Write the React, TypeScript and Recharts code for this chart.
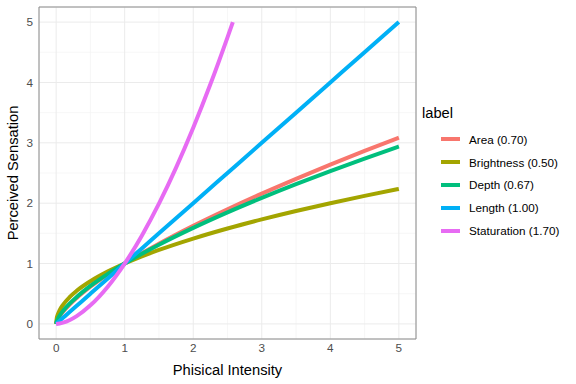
import React from "react";
import {
  LineChart,
  Line,
  XAxis,
  YAxis,
  CartesianGrid,
  ReferenceArea,
} from "recharts";

const xValues = [0, 0.01, 0.02, 0.05, 0.1, 0.2, 0.3, 0.5, 0.75, 1, 1.25, 1.5, 2, 2.5, 3, 3.5, 4, 4.5, 5];
const areaValues = [0, 0.04, 0.065, 0.123, 0.2, 0.324, 0.43, 0.616, 0.818, 1, 1.169, 1.328, 1.625, 1.899, 2.158, 2.404, 2.639, 2.866, 3.085];
const brightnessValues = [0, 0.1, 0.141, 0.224, 0.316, 0.447, 0.548, 0.707, 0.866, 1, 1.118, 1.225, 1.414, 1.581, 1.732, 1.871, 2.0, 2.121, 2.236];
const depthValues = [0, 0.046, 0.073, 0.134, 0.214, 0.34, 0.446, 0.629, 0.825, 1, 1.161, 1.312, 1.591, 1.848, 2.088, 2.315, 2.531, 2.739, 2.94];
const lengthValues = [0, 0.01, 0.02, 0.05, 0.1, 0.2, 0.3, 0.5, 0.75, 1, 1.25, 1.5, 2, 2.5, 3, 3.5, 4, 4.5, 5];
const saturationX = [0, 0.05, 0.1, 0.2, 0.3, 0.5, 0.75, 1, 1.25, 1.5, 1.75, 2, 2.25, 2.5, 2.578];
const saturationValues = [0, 0.006, 0.02, 0.065, 0.129, 0.308, 0.613, 1, 1.461, 1.992, 2.589, 3.249, 3.969, 4.748, 5.0];

const labels = ["Area (0.70)", "Brightness (0.50)", "Depth (0.67)", "Length (1.00)", "Staturation (1.70)"];
const colors = ["#F8766D", "#A3A500", "#00BF7D", "#00B0F6", "#E76BF3"];

const majorTicks = [0, 1, 2, 3, 4, 5];
const minorTicks = [0.5, 1.5, 2.5, 3.5, 4.5];

const toPoints = (xs: number[], ys: number[]) => xs.map((x, i) => ({ x, y: ys[i] }));

const series = [
  toPoints(xValues, areaValues),
  toPoints(xValues, brightnessValues),
  toPoints(xValues, depthValues),
  toPoints(xValues, lengthValues),
  toPoints(saturationX, saturationValues),
];

const FONT = "'Liberation Sans', Arial, sans-serif";

export default function App() {
  return (
    <div style={{ position: "absolute", left: 0, top: 0, width: 576, height: 384, background: "#fff", fontFamily: FONT }}>
      <LineChart width={576} height={384} margin={{ top: 7, right: 160, bottom: 0, left: 0 }}>
        <CartesianGrid
          stroke="#f3f3f3"
          strokeWidth={0.7}
          verticalValues={minorTicks}
          horizontalValues={minorTicks}
        />
        <CartesianGrid stroke="#ebebeb" strokeWidth={1} />
        <XAxis
          type="number"
          dataKey="x"
          domain={[-0.25, 5.25]}
          ticks={majorTicks}
          allowDataOverflow
          axisLine={false}
          tickLine={false}
          tickSize={3}
          tickMargin={2}
          height={45}
          tick={{ fill: "#4d4d4d", fontSize: 11.7, fontFamily: FONT }}
          label={{ value: "Phisical Intensity", position: "insideBottom", offset: 9, fill: "#000", fontSize: 14.7, fontFamily: FONT }}
        />
        <YAxis
          type="number"
          dataKey="y"
          domain={[-0.25, 5.25]}
          ticks={majorTicks}
          allowDataOverflow
          axisLine={false}
          tickLine={false}
          tickSize={4}
          tickMargin={2}
          width={39}
          tick={{ fill: "#4d4d4d", fontSize: 11.7, fontFamily: FONT }}
          label={{ value: "Perceived Sensation", angle: -90, position: "insideLeft", offset: 13, fill: "#000", fontSize: 14.7, fontFamily: FONT, style: { textAnchor: "middle" } }}
        />
        <ReferenceArea x1={-0.25} x2={5.25} y1={-0.25} y2={5.25} fill="none" stroke="#8c8c8c" strokeWidth={1} ifOverflow="visible" />
        {series.map((data, i) => (
          <Line
            key={labels[i]}
            data={data}
            dataKey="y"
            name={labels[i]}
            type="monotone"
            stroke={colors[i]}
            strokeWidth={4}
            dot={false}
            activeDot={false}
            isAnimationActive={false}
          />
        ))}
      </LineChart>
      <div style={{ position: "absolute", left: 422, top: 105 }}>
        <div style={{ fontSize: 14.7, color: "#000", marginBottom: 7 }}>label</div>
        {labels.map((l, i) => (
          <div key={l} style={{ display: "flex", alignItems: "center", height: 22.8 }}>
            <div style={{ width: 19, height: 4, background: colors[i], marginLeft: 19, marginRight: 9 }} />
            <span style={{ fontSize: 11.7, color: "#000" }}>{l}</span>
          </div>
        ))}
      </div>
    </div>
  );
}
